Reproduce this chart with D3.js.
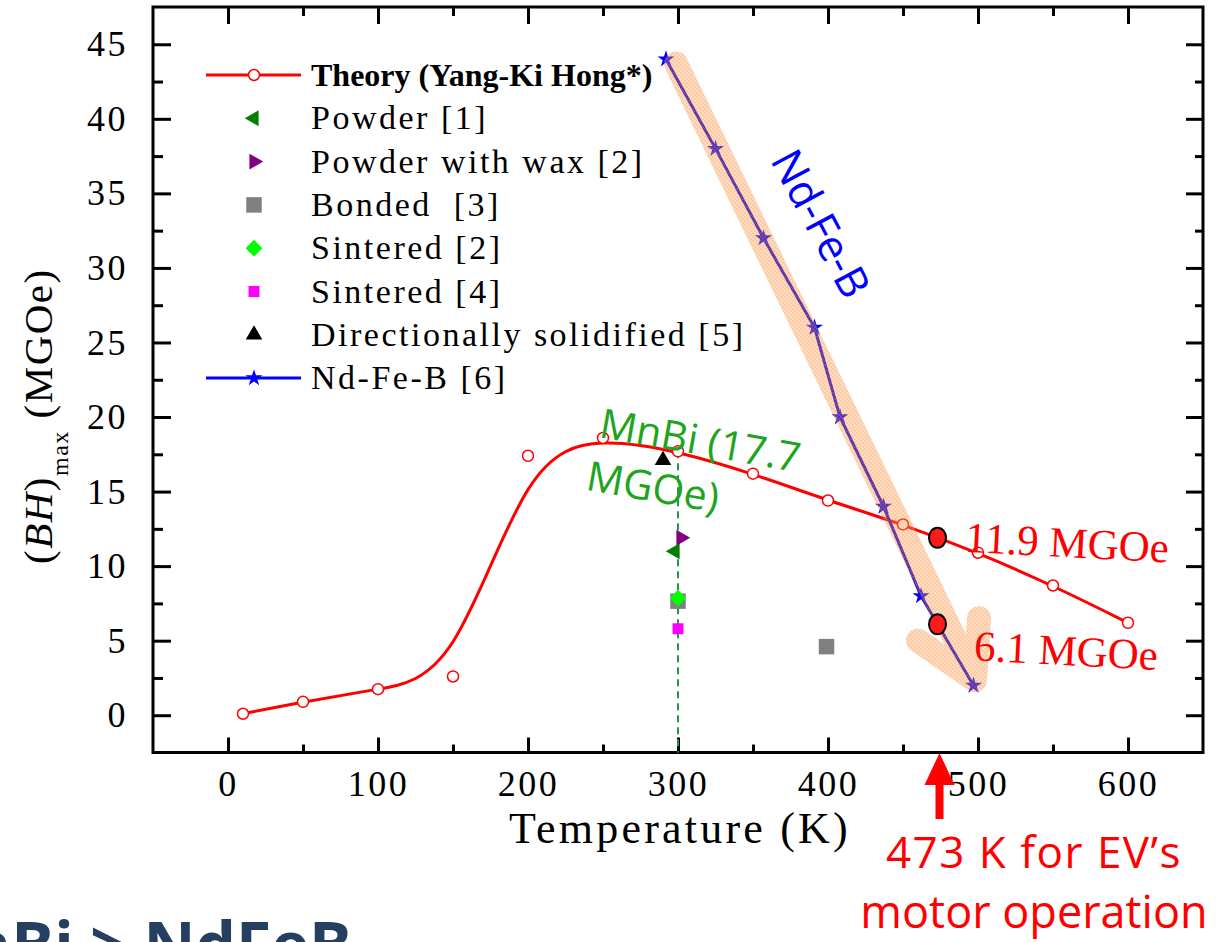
<!DOCTYPE html>
<html>
<head>
<meta charset="utf-8">
<script src="https://cdn.jsdelivr.net/npm/d3@7"></script>
<style>
  body { margin: 0; background: #fff; }
  svg { display: block; }
  text { white-space: pre; }
</style>
</head>
<body>
<svg id="chart" width="1225" height="942"></svg>
<script>
// ---- data -------------------------------------------------------------
const theoryT  = [10, 50, 100, 150, 200, 250, 300, 350, 400, 450, 500, 550, 600];
const theoryBH = [0.1, 0.9, 1.75, 2.6, 17.4, 18.6, 17.7, 16.2, 14.4, 12.8, 10.9, 8.7, 6.2];

const ndfebT  = [292, 325, 357, 391, 408, 437, 462, 497];
const ndfebBH = [44, 38, 32, 26, 20, 14, 8, 2];

const powder1     = [[298, 11.0]];
const powderWax2  = [[302, 11.9]];
const bonded3     = [[300, 7.65], [399, 4.6]];
const sintered2   = [[300, 7.85]];
const sintered4   = [[300, 5.8]];
const dirSolid5   = [[290, 17.1]];

const xTicks      = [0, 100, 200, 300, 400, 500, 600];
const xMinorTicks = [50, 150, 250, 350, 450, 550];
const yTicks      = [0, 5, 10, 15, 20, 25, 30, 35, 40, 45];
const yMinorTicks = [2.5, 7.5, 12.5, 17.5, 22.5, 27.5, 32.5, 37.5, 42.5];

const evTemp     = 473;          // K, EV motor operating temperature
const evValues   = [11.9, 6.1];  // MGOe at 473 K: MnBi theory, Nd-Fe-B
const mnbiPeak   = 17.7;         // MGOe at 300 K

// trend arrow over the Nd-Fe-B decline (T, BH)
const trendShaft = [[298.7, 43.7], [498, 2.35]];
const trendHead  = [[460, 5.0], [498, 2.35], [500.7, 6.5]];

// ---- layout -------------------------------------------------------------
const svg = d3.select("#chart");
const x = d3.scaleLinear().domain([-50, 650]).range([153, 1203]);
const y = d3.scaleLinear().domain([-2.5, 47.5]).range([752.5, 7]);
const serif = "'Liberation Serif','Times New Roman',serif";
const sans = "'Open Sans','Noto Sans',sans-serif";

const defs = svg.append("defs");
const pat = defs.append("pattern").attr("id", "hatch")
  .attr("patternUnits", "userSpaceOnUse").attr("width", 4).attr("height", 4);
pat.append("rect").attr("width", 4).attr("height", 4).attr("fill", "#f79646").attr("fill-opacity", 0.34);
pat.append("rect").attr("width", 2).attr("height", 2).attr("fill", "#f79646").attr("fill-opacity", 0.22);
pat.append("rect").attr("x", 2).attr("y", 2).attr("width", 2).attr("height", 2).attr("fill", "#f79646").attr("fill-opacity", 0.22);

// ---- axes -------------------------------------------------------------
function styleAxis(g) {
  g.select(".domain").remove();
  g.selectAll(".tick line").attr("stroke", "#000").attr("stroke-width", 3);
  g.selectAll(".tick text").attr("font-family", serif).attr("font-size", 36)
    .attr("letter-spacing", 2.5).attr("fill", "#000");
}
svg.append("g").attr("transform", `translate(0,${y.range()[0]})`)
  .call(d3.axisBottom(x).tickValues(xTicks).tickSize(-15).tickPadding(18).tickFormat(d3.format("d")))
  .call(styleAxis);
svg.append("g").attr("transform", `translate(0,${y.range()[0]})`)
  .call(d3.axisBottom(x).tickValues(xMinorTicks).tickSize(-8).tickFormat(""))
  .call(styleAxis);
svg.append("g").attr("transform", `translate(0,${y.range()[1]})`)
  .call(d3.axisTop(x).tickValues(xTicks).tickSize(-17).tickFormat(""))
  .call(styleAxis);
svg.append("g").attr("transform", `translate(0,${y.range()[1]})`)
  .call(d3.axisTop(x).tickValues(xMinorTicks).tickSize(-9).tickFormat(""))
  .call(styleAxis);
svg.append("g").attr("transform", `translate(${x.range()[0]},0)`)
  .call(d3.axisLeft(y).tickValues(yTicks).tickSize(-18).tickPadding(25).tickFormat(d3.format("d")))
  .call(styleAxis);
svg.append("g").attr("transform", `translate(${x.range()[0]},0)`)
  .call(d3.axisLeft(y).tickValues(yMinorTicks).tickSize(-10).tickFormat(""))
  .call(styleAxis);
svg.append("g").attr("transform", `translate(${x.range()[1]},0)`)
  .call(d3.axisRight(y).tickValues(yTicks).tickSize(-17).tickFormat(""))
  .call(styleAxis);
svg.append("g").attr("transform", `translate(${x.range()[1]},0)`)
  .call(d3.axisRight(y).tickValues(yMinorTicks).tickSize(-8).tickFormat(""))
  .call(styleAxis);

svg.append("rect")
  .attr("x", x.range()[0]).attr("y", y.range()[1])
  .attr("width", x.range()[1] - x.range()[0]).attr("height", y.range()[0] - y.range()[1])
  .attr("fill", "none").attr("stroke", "#000").attr("stroke-width", 3);

// axis titles
svg.append("text").attr("x", 680).attr("y", 843).attr("text-anchor", "middle")
  .attr("font-family", serif).attr("font-size", 44).attr("letter-spacing", 3.2)
  .text("Temperature (K)");

const yt = svg.append("text").attr("transform", "translate(52,564) rotate(-90)")
  .attr("font-family", serif).attr("font-size", 41).attr("letter-spacing", 1.5);
yt.append("tspan").text("(");
yt.append("tspan").attr("font-style", "italic").text("BH");
yt.append("tspan").text(")");
yt.append("tspan").attr("font-size", 24).attr("dy", 16).text("max");
yt.append("tspan").attr("dy", -16).text(" (MGOe)");

// ---- data layers -------------------------------------------------------
const plot = svg.append("g");

// MnBi room-temperature reference line
plot.append("line")
  .attr("x1", x(300)).attr("x2", x(300))
  .attr("y1", y(mnbiPeak)).attr("y2", y.range()[0])
  .attr("stroke", "#1f9a4a").attr("stroke-width", 2).attr("stroke-dasharray", "7,5");

// theory curve (B-spline through the computed points)
const theory = theoryT.map((t, i) => [t, theoryBH[i]]);
plot.append("path").datum(theory)
  .attr("d", d3.line().x(d => x(d[0])).y(d => y(d[1])).curve(d3.curveBasis))
  .attr("fill", "none").attr("stroke", "#ff0000").attr("stroke-width", 3);
plot.selectAll("circle.theory").data(theory).join("circle").attr("class", "theory")
  .attr("cx", d => x(d[0])).attr("cy", d => y(d[1])).attr("r", 5.5)
  .attr("fill", "#fff").attr("stroke", "#ff0000").attr("stroke-width", 1.5);

// Nd-Fe-B
const ndfeb = ndfebT.map((t, i) => [t, ndfebBH[i]]);
plot.append("path").datum(ndfeb)
  .attr("d", d3.line().x(d => x(d[0])).y(d => y(d[1])))
  .attr("fill", "none").attr("stroke", "#0000e6").attr("stroke-width", 3);
const star = d3.symbol().type(d3.symbolStar).size(90);
plot.selectAll("path.star").data(ndfeb).join("path").attr("class", "star")
  .attr("transform", d => `translate(${x(d[0])},${y(d[1])})`)
  .attr("d", star).attr("fill", "#0000ff");

// measured MnBi magnets
const symbols = {
  left:    { gen: d3.symbol().type(d3.symbolTriangle).size(110), rot: -90, color: "#008000" },
  right:   { gen: d3.symbol().type(d3.symbolTriangle).size(110), rot: 90,  color: "#800080" },
  bonded:  { gen: d3.symbol().type(d3.symbolSquare).size(240),   rot: 0,   color: "#808080" },
  diamond: { gen: d3.symbol().type(d3.symbolSquare).size(140),   rot: 45,  color: "#00ff00" },
  small:   { gen: d3.symbol().type(d3.symbolSquare).size(120),   rot: 0,   color: "#ff00ff" },
  up:      { gen: d3.symbol().type(d3.symbolTriangle).size(120), rot: 0,   color: "#000000" }
};
const scatterSets = [
  [bonded3, "bonded"], [powder1, "left"], [powderWax2, "right"],
  [sintered2, "diamond"], [sintered4, "small"], [dirSolid5, "up"]
];
scatterSets.forEach(([pts, key]) => {
  const s = symbols[key];
  plot.selectAll(null).data(pts).join("path")
    .attr("transform", d => `translate(${x(d[0])},${y(d[1])}) rotate(${s.rot})`)
    .attr("d", s.gen).attr("fill", s.color);
});

// highlighted trend arrow
const bandLine = d3.line().x(d => x(d[0])).y(d => y(d[1]));
plot.append("path")
  .attr("d", bandLine(trendShaft) + bandLine(trendHead))
  .attr("fill", "none").attr("stroke", "url(#hatch)").attr("stroke-width", 24)
  .attr("stroke-linecap", "round").attr("stroke-linejoin", "round");

// values at 473 K
plot.selectAll("ellipse.ev").data(evValues).join("ellipse").attr("class", "ev")
  .attr("cx", x(evTemp)).attr("cy", d => y(d)).attr("rx", 8.5).attr("ry", 10)
  .attr("fill", "#ff1a1a").attr("stroke", "#000").attr("stroke-width", 2);

const evLabelOffsets = [[27, 14, 3], [36, 36, 3]];
plot.selectAll("text.ev").data(evValues).join("text").attr("class", "ev")
  .attr("transform", (d, i) => `translate(${x(evTemp) + evLabelOffsets[i][0]},${y(d) + evLabelOffsets[i][1]}) rotate(${evLabelOffsets[i][2]})`)
  .attr("font-family", serif).attr("font-size", 43).attr("fill", "#ff0000")
  .text(d => `${d} MGOe`);

// ---- annotations ---------------------------------------------------------
const mn = svg.append("g").attr("transform", "translate(598,437) rotate(10)")
  .attr("font-family", sans).attr("font-size", 41).attr("fill", "#1ea41e");
mn.append("text").attr("x", 0).attr("y", 0).text(`MnBi (${mnbiPeak}`);
mn.append("text").attr("x", -4).attr("y", 54).text("MGOe)");

svg.append("text").attr("transform", "translate(822,223) rotate(62)")
  .attr("text-anchor", "middle").attr("dominant-baseline", "central")
  .attr("font-family", sans).attr("font-size", 43).attr("fill", "#0000ff")
  .text("Nd-Fe-B");

// 473 K pointer
const ax = x(evTemp) + 2;
svg.append("path")
  .attr("d", `M${ax},753 L${ax + 15},785 L${ax + 4},785 L${ax + 4},819 L${ax - 4},819 L${ax - 4},785 L${ax - 15},785 Z`)
  .attr("fill", "#ff0000");
svg.append("text").attr("x", 1034).attr("y", 868).attr("text-anchor", "middle")
  .attr("font-family", sans).attr("font-size", 44).attr("letter-spacing", 1.5).attr("fill", "#ff0000")
  .text(`${evTemp} K for EV’s`);
svg.append("text").attr("x", 1034).attr("y", 928).attr("text-anchor", "middle")
  .attr("font-family", sans).attr("font-size", 45).attr("fill", "#ff0000")
  .text("motor operation");

// slide headline running off the lower edge
svg.append("text").attr("x", 352).attr("y", 968).attr("text-anchor", "end")
  .attr("font-family", sans).attr("font-weight", "bold").attr("font-size", 64).attr("fill", "#243f60")
  .text("MnBi > NdFeB");

// ---- legend -------------------------------------------------------------
const legendItems = [
  { label: "Theory (Yang-Ki Hong*)", kind: "theory" },
  { label: "Powder [1]", kind: "left" },
  { label: "Powder with wax [2]", kind: "right" },
  { label: "Bonded  [3]", kind: "bonded" },
  { label: "Sintered [2]", kind: "diamond" },
  { label: "Sintered [4]", kind: "small" },
  { label: "Directionally solidified [5]", kind: "up" },
  { label: "Nd-Fe-B [6]", kind: "ndfeb" }
];
const legend = svg.append("g");
const row = legend.selectAll("g").data(legendItems).join("g")
  .attr("transform", (d, i) => `translate(254,${75 + i * 43.3})`);
row.each(function(d) {
  const g = d3.select(this);
  if (d.kind === "theory") {
    g.append("line").attr("x1", -48).attr("x2", 47).attr("stroke", "#ff0000").attr("stroke-width", 3);
    g.append("circle").attr("r", 5.5).attr("fill", "#fff").attr("stroke", "#ff0000").attr("stroke-width", 1.5);
  } else if (d.kind === "ndfeb") {
    g.append("line").attr("x1", -48).attr("x2", 47).attr("stroke", "#0000ff").attr("stroke-width", 3);
    g.append("path").attr("d", star).attr("fill", "#0000ff");
  } else {
    const s = symbols[d.kind];
    g.append("path").attr("d", s.gen).attr("transform", `rotate(${s.rot})`).attr("fill", s.color);
  }
  const t = g.append("text").attr("x", 57).attr("y", 11).attr("font-family", serif).text(d.label);
  if (d.kind === "theory") t.attr("font-weight", "bold").attr("font-size", 32);
  else t.attr("font-size", 34).attr("letter-spacing", 2.5);
});
</script>
</body>
</html>
